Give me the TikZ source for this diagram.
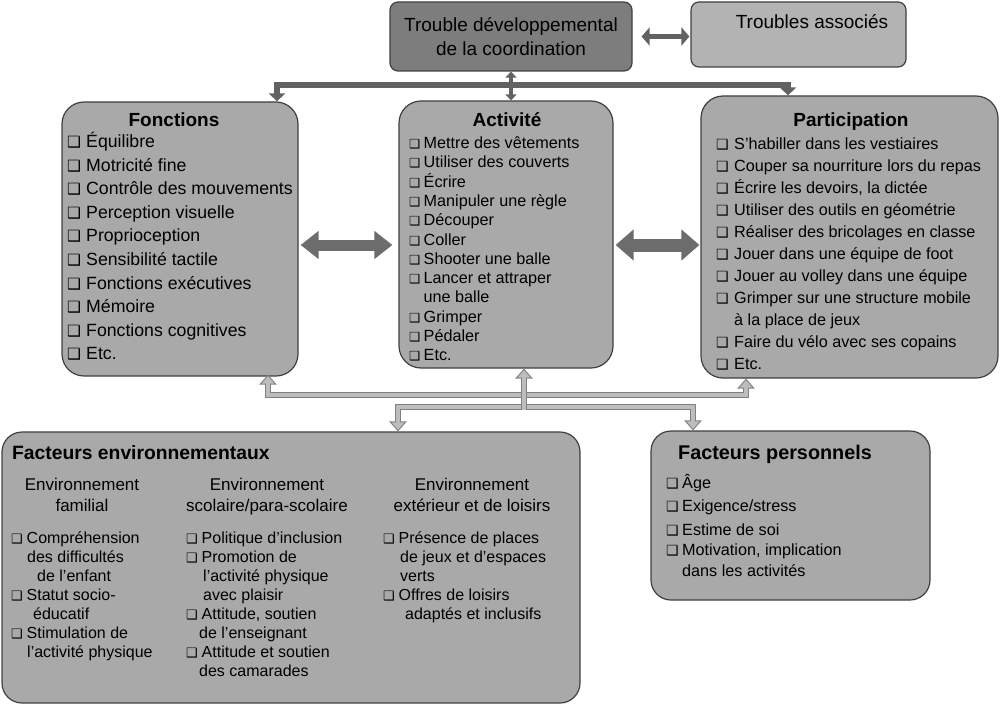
\documentclass[tikz,border=0pt]{standalone}
\usepackage{fontspec}
\setmainfont{Liberation Sans}
\newfontfamily\dejavu{DejaVu Sans}
\usetikzlibrary{arrows.meta,calc}
\definecolor{boxc}{HTML}{A9A9A9}
\definecolor{darkbox}{HTML}{7D7D7D}
\definecolor{lightbox}{HTML}{B3B3B3}
\definecolor{bordc}{HTML}{404040}
\definecolor{arrc}{HTML}{626262}
\definecolor{arrb}{HTML}{6C6C6C}
\definecolor{laoc}{HTML}{808080}
\definecolor{laic}{HTML}{BDBDBD}
\newcommand\fs[2]{\fontsize{#1pt}{#2pt}\selectfont}
\newcommand\bul[2]{\makebox[#1pt][l]{{\dejavu\fontsize{#2pt}{#2pt}\selectfont ❑}}}
\newcommand\bF{\bul{19}{15.5}}
\newcommand\bA{\bul{14.5}{12.5}}
\newcommand\nA{\hspace*{14.5pt}}
\newcommand\bP{\bul{18}{14}}
\newcommand\nP{\hspace*{18pt}}
\newcommand\bE{\bul{15.5}{13}}
\newcommand\bQ{\bul{16}{14}}
\newcommand\nQ{\hspace*{16pt}}
\tikzset{
  Lo/.tip={Triangle[width=17pt,length=10pt]},
  Li/.tip={Triangle[width=12.5pt,length=7.5pt]},
  Dk/.tip={Triangle[width=16pt,length=8pt]},
  Dv/.tip={Triangle[width=11pt,length=6pt]},
  Dh/.tip={Triangle[width=18pt,length=8pt]},
  Bl/.tip={Triangle[width=27pt,length=18pt]},
  Br/.tip={Triangle[width=30pt,length=18pt]},
}
\begin{document}
\begin{tikzpicture}[x=1pt,y=-1pt,
  box/.style={draw=bordc,line width=1.2pt,fill=boxc,rounded corners=22pt,inner sep=0pt},
  ttl/.style={anchor=base,inner sep=0pt,font=\bfseries\fs{19}{19}},
  fI/.style={anchor=base west,inner sep=0pt,font=\fs{17.7}{20}},
  aI/.style={anchor=base west,inner sep=0pt,font=\fs{16.2}{18}},
  pI/.style={anchor=base west,inner sep=0pt,font=\fs{16.2}{18}},
  eI/.style={anchor=base west,inner sep=0pt,font=\fs{16}{18}},
  eH/.style={anchor=base,inner sep=0pt,font=\fs{17}{19}},
  darr/.style={draw=arrc,line width=6pt,line join=miter,Dk-Dk},
  lao/.style={draw=laoc,line width=6.5pt,line join=miter,Lo-Lo},
  lai/.style={draw=laic,line width=3.6pt,line join=miter,Li-Li,shorten >=1.6pt,shorten <=1.6pt},
]
\useasboundingbox (0,0) rectangle (1000,706);

% boxes
\node[box,rounded corners=8pt,fill=darkbox,minimum width=242pt,minimum height=69pt,
  align=center,font=\fs{19}{24}] (tdc) at (511,36.5) {Trouble développemental\\de la coordination};
\node[box,rounded corners=8pt,fill=lightbox,minimum width=215pt,minimum height=65pt] (ta) at (798.5,34.5) {};
\node[anchor=base,inner sep=0pt,font=\fs{19}{24}] (tat) at (812,29) {Troubles associés};

\node[box,minimum width=236pt,minimum height=274pt] (fon) at (180,239) {};
\node[box,minimum width=214pt,minimum height=267pt] (act) at (506,234.5) {};
\node[box,minimum width=297pt,minimum height=282pt] (par) at (849.5,237) {};
\node[box,rounded corners=20pt,minimum width=578pt,minimum height=271pt] (env) at (291,567.5) {};
\node[box,rounded corners=20pt,minimum width=279pt,minimum height=169pt] (pers) at (790.5,515.5) {};

% titles
\node[ttl] (fonT) at (174,126) {Fonctions};
\node[ttl] (actT) at (507,127) {Activité};
\node[ttl] (parT) at (851,126) {Participation};
\node[ttl,anchor=base west,font=\bfseries\fs{19.3}{19}] (envT) at (12,459) {Facteurs environnementaux};
\node[ttl,font=\bfseries\fs{19.8}{19}] (persT) at (775,459) {Facteurs personnels};

% Fonctions
\foreach \t [count=\i from 0] in {Équilibre,Motricité fine,Contrôle des mouvements,Perception visuelle,Proprioception,Sensibilité tactile,Fonctions exécutives,Mémoire,Fonctions cognitives,Etc.}
  \node[fI] (fon\i) at (67,{147.5+23.6*\i}) {\bF\t};

% Activite
\foreach \t [count=\i from 0] in {{\bA Mettre des vêtements},{\bA Utiliser des couverts},{\bA Écrire},{\bA Manipuler une règle},{\bA Découper},{\bA Coller},{\bA Shooter une balle},{\bA Lancer et attraper},{\nA une balle},{\bA Grimper},{\bA Pédaler},{\bA Etc.}}
  \node[aI] (act\i) at (409,{148.5+19.3*\i}) {\t};

% Participation
\foreach \t [count=\i from 0] in {{\bP S’habiller dans les vestiaires},{\bP Couper sa nourriture lors du repas},{\bP Écrire les devoirs, la dictée},{\bP Utiliser des outils en géométrie},{\bP Réaliser des bricolages en classe},{\bP Jouer dans une équipe de foot},{\bP Jouer au volley dans une équipe},{\bP Grimper sur une structure mobile},{\nP à la place de jeux},{\bP Faire du vélo avec ses copains},{\bP Etc.}}
  \node[pI] (par\i) at (716,{149+22*\i}) {\t};

% Facteurs personnels
\node[pI] (pe0) at (666,488.5) {\bQ Âge};
\node[pI] (pe1) at (666,511.5) {\bQ Exigence/stress};
\node[pI] (pe2) at (666,535.5) {\bQ Estime de soi};
\node[pI] (pe3) at (666,555.5) {\bQ Motivation, implication};
\node[pI] (pe4) at (666,576.5) {\nQ dans les activités};

% Environnement headers
\node[eH] (h1a) at (82,490) {Environnement};
\node[eH] (h1b) at (82,511) {familial};
\node[eH] (h2a) at (267,490) {Environnement};
\node[eH] (h2b) at (267,511) {scolaire/para-scolaire};
\node[eH] (h3a) at (472,490) {Environnement};
\node[eH] (h3b) at (472,511) {extérieur et de loisirs};

% Environnement lists
\foreach \x/\t [count=\i from 0] in {11/{\bE Compréhension},27/{des difficultés},37/{de l’enfant},11/{\bE Statut socio-},33/{éducatif},11/{\bE Stimulation de},27/{l’activité physique}}
  \node[eI] (ea\i) at (\x,{543.5+19*\i}) {\t};
\foreach \x/\t [count=\i from 0] in {186/{\bE Politique d’inclusion},186/{\bE Promotion de},203/{l’activité physique},203/{avec plaisir},186/{\bE Attitude, soutien},199/{de l’enseignant},186/{\bE Attitude et soutien},199/{des camarades}}
  \node[eI] (eb\i) at (\x,{543.5+19*\i}) {\t};
\foreach \x/\t [count=\i from 0] in {383/{\bE Présence de places},400/{de jeux et d’espaces},400/{verts},383/{\bE Offres de loisirs},405/{adaptés et inclusifs}}
  \node[eI] (ec\i) at (\x,{543.5+19*\i}) {\t};

% dark connectors
\coordinate (xF) at (277,0);
\coordinate (xP) at (788,0);
\coordinate (yT) at (512,85);
\draw[darr] (fon.north -| xF) |- (yT) -| (par.north -| xP);
\draw[darr,line width=3.5pt,Dv-Dv] (tdc.south) -- (tdc.south |- act.north);
\draw[darr,line width=5pt,Dh-Dh,shorten <=9pt,shorten >=1pt] (tdc.east) -- (tdc.east -| ta.west);
\coordinate (yM) at (0,245);
\draw[draw=arrb,line width=11pt,Bl-Bl,shorten <=2pt,shorten >=6pt] (fon.east |- yM) -- (act.west |- yM);
\draw[draw=arrb,line width=13pt,Br-Br,shorten <=2pt,shorten >=1pt] (act.east |- yM) -- (par.west |- yM);

% light connectors
\coordinate (xa) at (268,0);
\coordinate (xb) at (746,0);
\coordinate (ya) at (500,395);
\coordinate (xc) at (524,0);
\coordinate (yc) at (524,410);
\coordinate (xd) at (398,0);
\coordinate (xe) at (693,0);
\coordinate (yd) at (524,407);
\draw[lao] ($(fon.south -| xa)+(0,-2)$) |- (ya) -| (par.south -| xb);
\draw[lai] ($(fon.south -| xa)+(0,-2)$) |- (ya) -| (par.south -| xb);
\draw[lao] (env.north -| xd) |- (yd) -| (pers.north -| xe);
\draw[lai] (env.north -| xd) |- (yd) -| (pers.north -| xe);
\draw[lao,Lo-] (act.south -| xc) -- (yc);
\draw[lai,Li-,shorten >=0pt] (act.south -| xc) -- (yc);
\end{tikzpicture}
\end{document}
